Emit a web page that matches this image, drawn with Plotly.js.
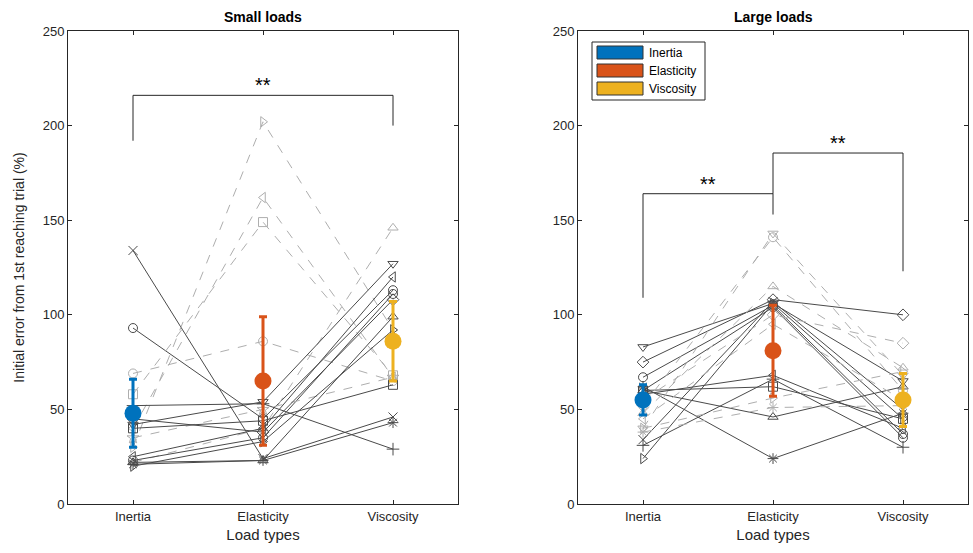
<!DOCTYPE html>
<html><head><meta charset="utf-8">
<script src="https://cdn.plot.ly/plotly-3.0.1.min.js"></script>
<style>html,body{margin:0;padding:0;background:#fff}#chart{width:973px;height:553px}</style>
</head><body><div id="chart"></div>
<script>
// ---------- data ----------
const categories = ['Inertia', 'Elasticity', 'Viscosity'];
const yTicks = [0, 50, 100, 150, 200, 250];

// Small loads: per-subject values [Inertia, Elasticity, Viscosity]
const smallSubjects = [
  [134, 24, 46], [93, 45, 113], [69, 86, 65], [30, 202, 92], [40, 162, 67],
  [58, 149, 68], [22, 40, 146], [42, 54, 127], [25, 40, 120], [23, 35, 111],
  [22, 23, 99], [35, 50, 67], [40, 44, 63], [21, 23, 43], [52, 53, 29],
  [45, 38, 108], [20, 33, 92]
];
const smallSymbols = ['x-thin-open', 'circle-open', 'circle-open', 'triangle-right-open', 'triangle-left-open',
  'square-open', 'triangle-up-open', 'triangle-down-open', 'triangle-left-open', 'circle-open',
  'triangle-up-open', 'star-open', 'square-open', 'asterisk-open', 'cross-thin-open',
  'diamond-open', 'triangle-right-open'];
const smallSolid = [1, 1, 0, 0, 0, 0, 0, 1, 1, 1, 1, 0, 1, 1, 1, 1, 1];
const smallMean = [48, 65, 86];
const smallSD = [18, 34, 21];

// Large loads
const largeSubjects = [
  [83, 106, 65], [75, 108, 100], [67, 105, 37], [24, 106, 45], [31, 66, 30],
  [34, 107, 50], [62, 24, 48], [60, 46, 62], [60, 62, 45], [58, 68, 40],
  [60, 104, 35], [40, 143, 68], [52, 141, 60], [48, 115, 72], [45, 95, 55],
  [55, 100, 85], [38, 51, 52], [40, 56, 70]
];
const largeSymbols = ['triangle-down-open', 'diamond-open', 'circle-open', 'triangle-right-open', 'cross-thin-open',
  'x-thin-open', 'asterisk-open', 'triangle-up-open', 'square-open', 'triangle-left-open',
  'circle-open', 'triangle-down-open', 'circle-open', 'triangle-up-open', 'triangle-left-open',
  'diamond-open', 'asterisk-open', 'triangle-right-open'];
const largeSolid = [1, 1, 1, 1, 1, 1, 1, 1, 1, 1, 1, 0, 0, 0, 0, 0, 0, 0];
const largeMean = [55, 81, 55];
const largeSD = [8, 24, 14];

const meanColors = ['#0072BD', '#D95319', '#EDB120'];

// significance brackets: [fromIdx, toIdx, leftLegBottom, top, rightLegBottom]
const smallBrackets = [[0, 2, 192, 216, 200]];
const largeBrackets = [[0, 1, 109, 164, 153], [1, 2, 164, 185.5, 123]];
const sigLabel = '**';

// ---------- build ----------
const DARK = '#4a4a4a', LIGHT = '#aeaeae';
const FAM = 'Liberation Sans, Arial, sans-serif';
const traces = [];
const annotations = [];
function addPanel(subjects, symbols, solid, mean, sd, brackets, xa, ya) {
  subjects.forEach((vals, i) => {
    const s = solid[i];
    traces.push({
      type: 'scatter', mode: 'lines+markers', x: categories, y: vals, xaxis: xa, yaxis: ya,
      showlegend: false, hoverinfo: 'skip',
      line: { color: s ? DARK : LIGHT, width: 1, dash: s ? 'solid' : 'dash' },
      marker: { symbol: symbols[i], size: 9, color: s ? DARK : LIGHT, line: { color: s ? DARK : LIGHT, width: 1 } }
    });
  });
  brackets.forEach(b => {
    traces.push({
      type: 'scatter', mode: 'lines', xaxis: xa, yaxis: ya, showlegend: false, hoverinfo: 'skip',
      x: [categories[b[0]], categories[b[0]], categories[b[1]], categories[b[1]]],
      y: [b[2], b[3], b[3], b[4]],
      line: { color: '#262626', width: 1 }
    });
    annotations.push({
      xref: xa, yref: ya, x: (b[0] + b[1]) / 2, y: b[3], yanchor: 'bottom', yshift: -3,
      text: sigLabel, showarrow: false, font: { family: FAM, size: 20, color: '#000' }
    });
  });
  categories.forEach((c, k) => {
    traces.push({
      type: 'scatter', mode: 'markers', x: [c], y: [mean[k]], xaxis: xa, yaxis: ya, showlegend: false,
      error_y: { type: 'data', array: [sd[k]], color: meanColors[k], thickness: 3, width: 4 },
      marker: { symbol: 'circle', size: 17, color: meanColors[k] }
    });
  });
}
addPanel(smallSubjects, smallSymbols, smallSolid, smallMean, smallSD, smallBrackets, 'x', 'y');
addPanel(largeSubjects, largeSymbols, largeSolid, largeMean, largeSD, largeBrackets, 'x2', 'y2');

const W = 973, H = 553;
const font = { family: FAM, size: 13, color: '#262626' };
function xAxis(dom, anchor) {
  return {
    domain: dom, anchor: anchor, type: 'category', categoryorder: 'array', categoryarray: categories,
    range: [-0.5, 2.5], showline: true, mirror: 'ticks', linecolor: '#262626', linewidth: 1,
    ticks: 'inside', ticklen: 4, tickcolor: '#262626', showgrid: false, zeroline: false,
    tickfont: font, title: { text: 'Load types', font: { family: FAM, size: 15, color: '#262626' }, standoff: 6 }
  };
}
function yAxis(dom, anchor, showTitle) {
  return {
    domain: dom, anchor: anchor, range: [0, 250], tickvals: yTicks, showline: true, mirror: 'ticks',
    linecolor: '#262626', linewidth: 1, ticks: 'inside', ticklen: 4, tickcolor: '#262626',
    showgrid: false, zeroline: false, tickfont: font,
    title: showTitle ? { text: 'Initial error from 1st reaching trial (%)', font: { family: FAM, size: 14, color: '#262626' }, standoff: 14 } : { text: '' }
  };
}
const yDom = [(H - 504) / H, (H - 31) / H];
annotations.push(
  { text: '<b>Small loads</b>', xref: 'paper', yref: 'paper', x: 263 / W, y: 1 - 17 / H, xanchor: 'center', yanchor: 'middle', showarrow: false, font: { family: FAM, size: 14, color: '#000' } },
  { text: '<b>Large loads</b>', xref: 'paper', yref: 'paper', x: 773 / W, y: 1 - 17 / H, xanchor: 'center', yanchor: 'middle', showarrow: false, font: { family: FAM, size: 14, color: '#000' } }
);
const layout = {
  width: W, height: H, margin: { l: 0, r: 0, t: 0, b: 0 }, paper_bgcolor: '#fff', plot_bgcolor: '#fff',
  showlegend: false,
  xaxis: xAxis([68 / W, 458 / W], 'y'),
  yaxis: yAxis(yDom, 'x', true),
  xaxis2: xAxis([578 / W, 968 / W], 'y2'),
  yaxis2: yAxis(yDom, 'x2', false),
  annotations: annotations,
  shapes: [
    { type: 'rect', xref: 'paper', yref: 'paper', x0: 592 / W, x1: 705 / W, y0: 1 - 100 / H, y1: 1 - 42 / H, line: { color: '#262626', width: 1 }, fillcolor: '#fff' }
  ]
};
categories.forEach((c, k) => {
  const top = 46 + k * 18;
  layout.shapes.push({ type: 'rect', xref: 'paper', yref: 'paper', x0: 597 / W, x1: 643 / W, y0: 1 - (top + 13) / H, y1: 1 - top / H, line: { color: '#333', width: 1 }, fillcolor: meanColors[k] });
  layout.annotations.push({ text: c, xref: 'paper', yref: 'paper', x: 647 / W, y: 1 - (top + 6.5) / H, xanchor: 'left', yanchor: 'middle', showarrow: false, font: { family: FAM, size: 12, color: '#000' } });
});
Plotly.newPlot('chart', traces, layout, { staticPlot: true });
</script></body></html>
